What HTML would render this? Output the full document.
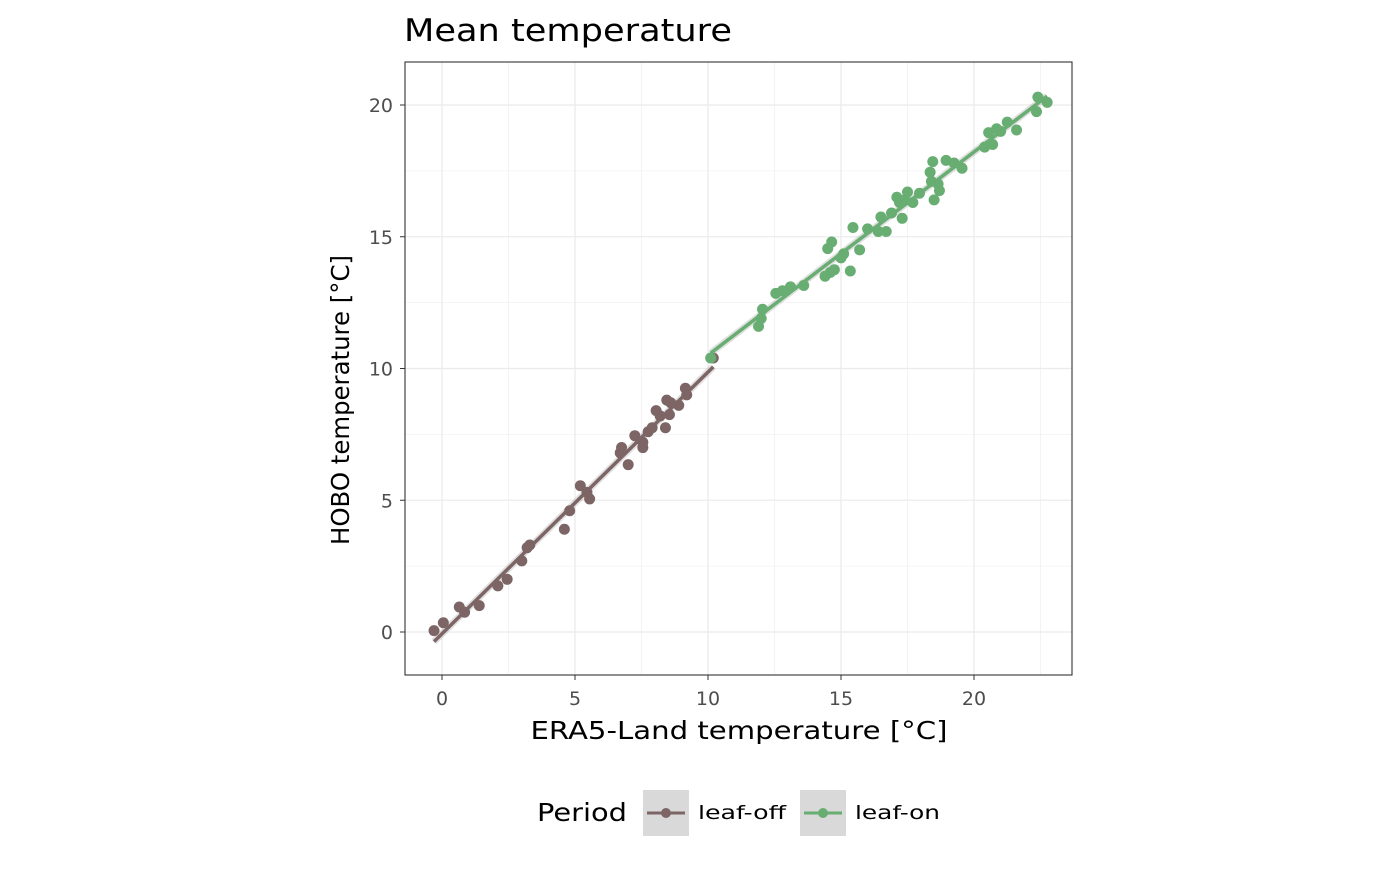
<!DOCTYPE html>
<html><head><meta charset="utf-8"><style>
body{margin:0;background:#fff;font-family:"DejaVu Sans","Liberation Sans",sans-serif}
</style></head><body>
<svg id="chart" width="1400" height="865" xmlns="http://www.w3.org/2000/svg" font-family="DejaVu Sans, Liberation Sans, sans-serif">
<text x="404" y="41" font-size="31" fill="#000" textLength="328" lengthAdjust="spacingAndGlyphs">Mean temperature</text>
<g id="grid"></g>
<g id="marks"></g>
<rect x="405" y="62" width="667" height="613" fill="none" stroke="#333" stroke-width="1.1"/>
<g id="ticks"></g>
<text x="739" y="739" font-size="25" text-anchor="middle" textLength="417" lengthAdjust="spacingAndGlyphs">ERA5-Land temperature [°C]</text>
<text transform="translate(349,400) rotate(-90)" font-size="25" text-anchor="middle" textLength="290" lengthAdjust="spacingAndGlyphs">HOBO temperature [°C]</text>
<g>
<text x="537" y="821" font-size="25" textLength="90" lengthAdjust="spacingAndGlyphs">Period</text>
<g>
<rect x="643" y="790" width="46" height="46" fill="#d9d9d9"/>
<line x1="647" y1="813" x2="685" y2="813" stroke="#7d6566" stroke-width="3"/>
<circle cx="666" cy="813" r="5" fill="#7d6566"/>
<text x="698" y="819" font-size="19" textLength="88" lengthAdjust="spacingAndGlyphs">leaf-off</text></g>
<g>
<rect x="800" y="790" width="46" height="46" fill="#d9d9d9"/>
<line x1="804" y1="813" x2="842" y2="813" stroke="#68ad72" stroke-width="3"/>
<circle cx="823" cy="813" r="5" fill="#68ad72"/>
<text x="855" y="819" font-size="19" textLength="85" lengthAdjust="spacingAndGlyphs">leaf-on</text></g>
</g>
</svg>
<script>
const xTicks=[0,5,10,15,20];
const yTicks=[0,5,10,15,20];
const offX=[-0.3,0.05,0.65,0.85,1.4,2.1,2.45,3.0,3.2,3.3,4.6,4.8,5.2,5.55,5.45,6.7,6.75,7.0,7.25,7.55,7.55,7.75,7.9,8.05,8.2,8.4,8.45,8.55,8.6,8.9,9.15,9.2,10.2];
const offY=[0.05,0.35,0.95,0.75,1.0,1.75,2.0,2.7,3.2,3.3,3.9,4.6,5.55,5.05,5.3,6.8,7.0,6.35,7.45,7.0,7.2,7.6,7.75,8.4,8.2,7.75,8.8,8.25,8.7,8.6,9.25,9.0,10.4];
const onX=[10.1,11.9,12.0,12.05,12.55,12.8,13.1,13.6,14.4,14.5,14.6,14.65,14.75,15.0,15.1,15.35,15.45,15.7,16.0,16.4,16.5,16.7,16.9,17.1,17.2,17.3,17.4,17.5,17.7,17.95,18.35,18.4,18.45,18.5,18.65,18.7,18.95,19.25,19.55,20.4,20.55,20.7,20.85,21.0,21.25,21.6,22.35,22.4,22.75];
const onY=[10.4,11.6,11.9,12.25,12.85,12.95,13.1,13.15,13.5,14.55,13.65,14.8,13.75,14.2,14.35,13.7,15.35,14.5,15.3,15.2,15.75,15.2,15.9,16.5,16.3,15.7,16.4,16.7,16.3,16.65,17.45,17.1,17.85,16.4,17.0,16.75,17.9,17.8,17.6,18.4,18.95,18.5,19.1,19.0,19.35,19.05,19.75,20.3,20.1];
const NS='http://www.w3.org/2000/svg';
const sx=v=>442+v*26.6, sy=v=>632-v*26.35;
function mk(t,a,p){const e=document.createElementNS(NS,t);for(const k in a)e.setAttribute(k,a[k]);p.appendChild(e);return e;}
const grid=document.getElementById('grid'),ticks=document.getElementById('ticks'),marks=document.getElementById('marks');
mk('rect',{x:405,y:62,width:667,height:613,fill:'#fff'},grid);
xTicks.forEach(t=>{
 const m=t+2.5;if(sx(m)<1072)mk('line',{x1:sx(m),x2:sx(m),y1:62,y2:675,stroke:'#ebebeb','stroke-width':0.6},grid);
 const g=mk('line',{x1:sx(t),x2:sx(t),y1:62,y2:675,stroke:'#ebebeb','stroke-width':1.3},grid);
 
 
 mk('line',{x1:sx(t),x2:sx(t),y1:675,y2:680,stroke:'#333'},ticks);
 const tx=mk('text',{x:sx(t),y:705,'font-size':19,fill:'#4d4d4d','text-anchor':'middle'},ticks);tx.textContent=t;
 
 
});
yTicks.forEach(t=>{
 const m=t-2.5;if(sy(m)<675)mk('line',{x1:405,x2:1072,y1:sy(m),y2:sy(m),stroke:'#ebebeb','stroke-width':0.6},grid);
 const g=mk('line',{x1:405,x2:1072,y1:sy(t),y2:sy(t),stroke:'#ebebeb','stroke-width':1.3},grid);
 
 
 mk('line',{x1:400,x2:405,y1:sy(t),y2:sy(t),stroke:'#333'},ticks);
 const tx=mk('text',{x:393,y:sy(t)+7,'font-size':19,fill:'#4d4d4d','text-anchor':'end'},ticks);tx.textContent=t;
 
 
});
function fit(X,Y){const n=X.length;let mx=0,my=0;X.forEach((v,i)=>{mx+=v;my+=Y[i];});mx/=n;my/=n;let sxy=0,sxx=0;X.forEach((v,i)=>{sxy+=(v-mx)*(Y[i]-my);sxx+=(v-mx)**2;});const b=sxy/sxx;return [my-b*mx,b];}
function series(X,Y,col,name){
 const [a,b]=fit(X,Y);const x0=Math.min(...X),x1=Math.max(...X);
 const band=mk('line',{x1:sx(x0),y1:sy(a+b*x0),x2:sx(x1),y2:sy(a+b*x1),stroke:'#999','stroke-opacity':0.3,'stroke-width':7},marks);
 
 
 X.forEach((v,i)=>{const c=mk('circle',{cx:sx(v),cy:sy(Y[i]),r:5.5,fill:col},marks);
  
  });
 const l=mk('line',{x1:sx(x0),y1:sy(a+b*x0),x2:sx(x1),y2:sy(a+b*x1),stroke:col,'stroke-width':3.5},marks);
 
 
}
series(offX,offY,'#7d6566','leaf-off');
series(onX,onY,'#68ad72','leaf-on');
</script>
</body></html>
